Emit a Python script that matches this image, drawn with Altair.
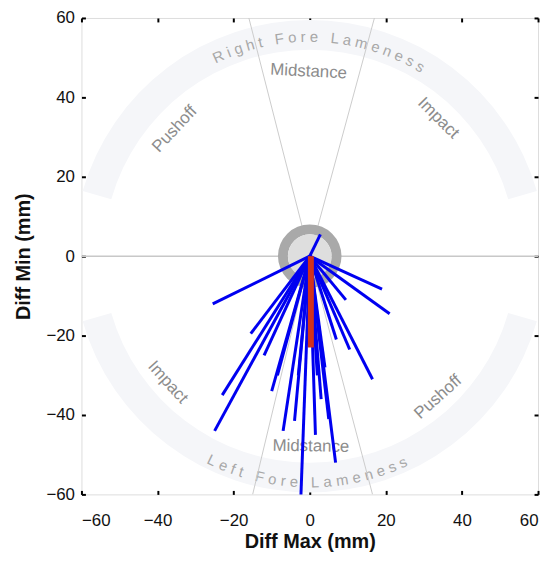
import math
import altair as alt
import pandas as pd

# ---------------- data ----------------
x_ticks = [-60, -40, -20, 0, 20, 40, 60]
y_ticks = [-60, -40, -20, 0, 20, 40, 60]

# blue traces: each runs from the origin to (end_x, end_y)
blue_end_x = [2.8, -25.5, 19.0, 21.0, 9.5, -15.5, 16.5, 10.5, -23.0, -25.0,
              -10.0, -8.5, -7.0, -4.0, -2.5, 1.5, 5.0, 6.8, 3.0, 7.0,
              -3.0, 4.0, -12.0, 2.0]
blue_end_y = [5.5, -12.0, -8.3, -14.5, -11.0, -19.5, -31.0, -23.5, -35.0, -44.0,
              -34.0, -30.0, -44.0, -41.5, -65.0, -45.0, -41.0, -52.0, -36.0, -21.0,
              -30.0, -28.0, -25.0, -30.0]

# red trace
red_x = [0.3]
red_y_start = [0.0]
red_y_end = [-23.0]

# sector boundary lines (from origin)
sector_end_x = [-16.0, 17.0, -15.0, 16.5]
sector_end_y = [60.0, 60.0, -60.0, -60.0]

# sector labels
sector_labels = ["Midstance", "Impact", "Pushoff", "Impact", "Midstance", "Pushoff"]
sector_label_x = [-0.3, 33.8, -35.5, -37.3, 0.3, 33.7]
sector_label_y = [46.5, 34.8, 32.0, -31.75, -47.9, -35.5]
sector_label_angle = [3, 45, 313, 48, 1, 318]

ring_titles = ["Right Fore Lameness", "Left Fore Lameness"]

# ---------------- layout helpers ----------------
W = {"R": .722, "i": .222, "g": .556, "h": .556, "t": .278, " ": .278, "F": .611,
     "o": .556, "r": .333, "e": .556, "L": .556, "a": .556, "m": .833, "n": .556,
     "s": .5, "f": .278}
FS_RING = 15
LS_RING = 4.3


def arc_letters(text, start_deg, direction, radius, upright_bottom):
    rows = []
    th = start_deg
    for i, c in enumerate(text):
        if i > 0:
            d = (W.get(text[i - 1], .55) / 2 + W.get(c, .55) / 2) * FS_RING + LS_RING
            th += direction * math.degrees(d / radius)
        if c != " ":
            ang = (th - 180) if upright_bottom else th
            rows.append({"ch": c, "theta": math.radians(th), "r": radius,
                         "ang": ang % 360})
    return rows


letters = arc_letters(ring_titles[0], -24.6, 1, 221, False) + \
    arc_letters(ring_titles[1], 205.6, -1, 228, True)
letters_df = pd.DataFrame(letters)

ring_df = pd.DataFrame({"t0": [math.radians(286), math.radians(106)],
                        "t1": [math.radians(434), math.radians(254)]})

blue_df = pd.DataFrame({"x0": [0.0] * len(blue_end_x), "y0": [0.0] * len(blue_end_x),
                        "x1": blue_end_x, "y1": blue_end_y})
red_df = pd.DataFrame({"x": red_x, "y0": red_y_start, "y1": red_y_end})
sector_df = pd.DataFrame({"x0": [0.0] * 4, "y0": [0.0] * 4,
                          "x1": sector_end_x, "y1": sector_end_y})
zero_df = pd.DataFrame({"x0": [x_ticks[0]], "x1": [x_ticks[-1]], "y": [0.0]})
label_df = pd.DataFrame({"t": sector_labels, "x": sector_label_x,
                         "y": sector_label_y, "a": sector_label_angle})
circle_df = pd.DataFrame({"t0": [0.0], "t1": [2 * math.pi]})

FONT = "Liberation Sans"
xs = alt.Scale(domain=[-60, 60], nice=False)
ys = alt.Scale(domain=[-60, 60], nice=False)

# ---------------- layers ----------------
ring = alt.Chart(ring_df).mark_arc(radius=238, radius2=208, color="#f5f6f9").encode(
    theta=alt.Theta("t0:Q", scale=None), theta2="t1:Q")

ring_text = alt.Chart(letters_df).mark_text(
    font=FONT, fontSize=FS_RING, color="#a8a8a8", align="center", baseline="middle"
).encode(theta=alt.Theta("theta:Q", scale=None), radius=alt.Radius("r:Q", scale=None),
         angle=alt.Angle("ang:Q", scale=None), text="ch:N")

sector_lines = alt.Chart(sector_df).mark_rule(color="#cccccc", strokeWidth=1, clip=True).encode(
    x=alt.X("x0:Q", scale=xs, axis=None), y=alt.Y("y0:Q", scale=ys, axis=None),
    x2="x1:Q", y2="y1:Q")

tick_axis_common = dict(values=x_ticks, offset=-4, tickSize=4, tickWidth=2,
                        tickColor="black", domain=False, grid=False)

zero_line = alt.Chart(zero_df).mark_rule(color="#c8c8c8", strokeWidth=1.5).encode(
    x=alt.X("x0:Q", scale=xs, axis=alt.Axis(orient="top", labels=False, title=None,
                                            **tick_axis_common)),
    x2="x1:Q",
    y=alt.Y("y:Q", scale=ys, axis=alt.Axis(orient="right", labels=False, title=None,
                                           **tick_axis_common)))

labels = alt.Chart(label_df).mark_text(
    font=FONT, fontSize=17, color="#8c8c8c", align="center", baseline="middle"
).encode(x=alt.X("x:Q", scale=xs, axis=None), y=alt.Y("y:Q", scale=ys, axis=None),
         angle=alt.Angle("a:Q", scale=None), text="t:N")

circle_ring = alt.Chart(circle_df).mark_arc(radius=32, radius2=22, color="#a9a9a9").encode(
    theta=alt.Theta("t0:Q", scale=None), theta2="t1:Q")
circle_fill = alt.Chart(circle_df).mark_arc(radius=22, radius2=0, color="#dedede").encode(
    theta=alt.Theta("t0:Q", scale=None), theta2="t1:Q")

blue = alt.Chart(blue_df).mark_rule(color="#0000f0", strokeWidth=3, clip=True).encode(
    x=alt.X("x0:Q", scale=xs,
            axis=alt.Axis(orient="bottom", title="Diff Max (mm)", labelPadding=18,
                          labelFontSize=17, labelFont=FONT, labelColor="#111111",
                          titleFont=FONT, titleFontSize=20, titleFontWeight="bold",
                          titleColor="#111111", titlePadding=4, **tick_axis_common)),
    x2="x1:Q",
    y=alt.Y("y0:Q", scale=ys,
            axis=alt.Axis(orient="left", title="Diff Min (mm)", labelPadding=7,
                          labelFontSize=17, labelFont=FONT, labelColor="#111111",
                          titleFont=FONT, titleFontSize=20, titleFontWeight="bold",
                          titleColor="#111111", titlePadding=12, **tick_axis_common)),
    y2="y1:Q")

red = alt.Chart(red_df).mark_rule(color="#d2321c", strokeWidth=6).encode(
    x=alt.X("x:Q", scale=xs, axis=None), y=alt.Y("y0:Q", scale=ys, axis=None), y2="y1:Q")

chart = alt.layer(ring, ring_text, sector_lines, zero_line, labels, circle_ring,
                  circle_fill, blue, red).resolve_axis(
    x="independent", y="independent"
).properties(
    width=460, height=480,
    autosize=alt.AutoSizeParams(type="none"),
    padding={"left": 74, "top": 8, "right": 4, "bottom": 57},
).configure_view(stroke="black", strokeWidth=2).configure(font=FONT)

chart.save("out.html", embed_options={"renderer": "svg", "actions": False})
